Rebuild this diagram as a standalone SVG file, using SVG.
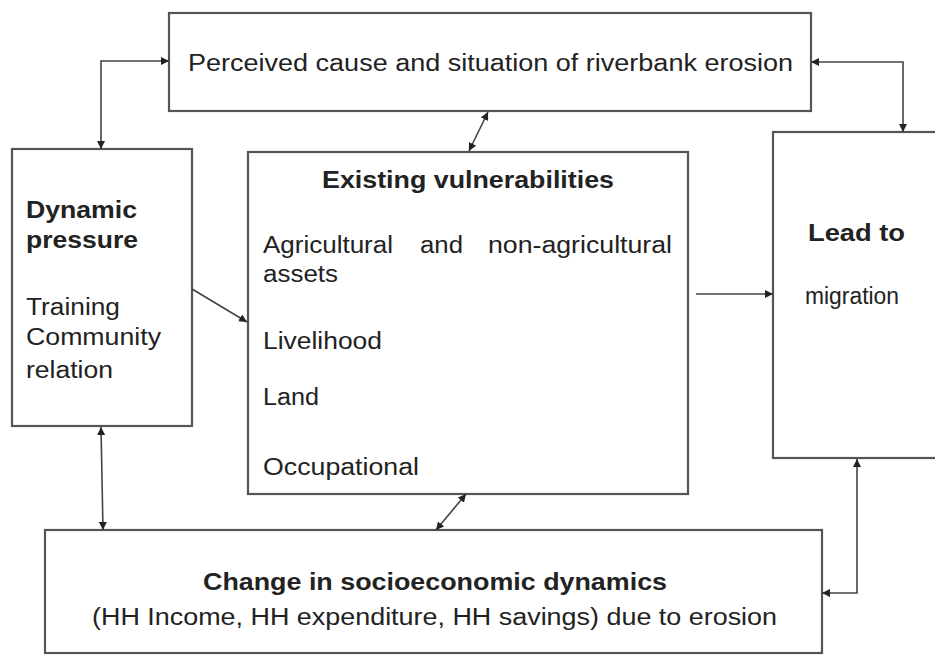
<svg xmlns="http://www.w3.org/2000/svg" width="935" height="655" viewBox="0 0 935 655">
<style>
.box{fill:#fff;stroke:#555;stroke-width:2.2}
.t{font-family:"Liberation Sans",Arial,sans-serif;font-size:23px;fill:#222}
.b{font-weight:bold}
.c{fill:none;stroke:#444;stroke-width:1.6}
</style>
<defs>
<marker id="ah" viewBox="0 0 10 10" refX="10" refY="5" markerWidth="8" markerHeight="8" markerUnits="userSpaceOnUse" orient="auto-start-reverse">
<path d="M0,0 L10,5 L0,10 z" fill="#222"/>
</marker>
</defs>
<rect width="935" height="655" fill="#fff"/>
<g id="n-cause">
<rect class="box" x="169" y="13" width="642" height="98"/>
<text class="t" x="188" y="71" textLength="605" lengthAdjust="spacingAndGlyphs" font-size="24">Perceived cause and situation of riverbank erosion</text>
</g>
<g id="n-pressure">
<rect class="box" x="12" y="149" width="180" height="277"/>
<text class="t b" x="26" y="218" textLength="111" lengthAdjust="spacingAndGlyphs">Dynamic</text>
<text class="t b" x="26" y="248" textLength="112" lengthAdjust="spacingAndGlyphs">pressure</text>
<text class="t" x="26" y="315" textLength="94" lengthAdjust="spacingAndGlyphs">Training</text>
<text class="t" x="26" y="345" textLength="135" lengthAdjust="spacingAndGlyphs">Community</text>
<text class="t" x="26" y="378" textLength="87" lengthAdjust="spacingAndGlyphs">relation</text>
</g>
<g id="n-vuln">
<rect class="box" x="248" y="152" width="440" height="342"/>
<text class="t b" x="322" y="188" textLength="292" lengthAdjust="spacingAndGlyphs">Existing vulnerabilities</text>
<text class="t" x="263" y="253" textLength="130" lengthAdjust="spacingAndGlyphs">Agricultural</text>
<text class="t" x="420" y="253" textLength="43" lengthAdjust="spacingAndGlyphs">and</text>
<text class="t" x="488" y="253" textLength="184" lengthAdjust="spacingAndGlyphs">non-agricultural</text>
<text class="t" x="263" y="282" textLength="75" lengthAdjust="spacingAndGlyphs">assets</text>
<text class="t" x="263" y="349" textLength="119" lengthAdjust="spacingAndGlyphs">Livelihood</text>
<text class="t" x="263" y="405" textLength="56" lengthAdjust="spacingAndGlyphs">Land</text>
<text class="t" x="263" y="475" textLength="156" lengthAdjust="spacingAndGlyphs">Occupational</text>
</g>
<g id="n-lead">
<rect class="box" x="773" y="132" width="170" height="326"/>
<text class="t b" x="808" y="241" textLength="97" lengthAdjust="spacingAndGlyphs">Lead to</text>
<text class="t" x="805" y="304" textLength="94" lengthAdjust="spacingAndGlyphs">migration</text>
</g>
<g id="n-change">
<rect class="box" x="45" y="530" width="777" height="123"/>
<text class="t b" x="203" y="590" textLength="464" lengthAdjust="spacingAndGlyphs">Change in socioeconomic dynamics</text>
<text class="t" x="92" y="625" textLength="685" lengthAdjust="spacingAndGlyphs">(HH Income, HH expenditure, HH savings) due to erosion</text>
</g>
<g id="connectors">
<path class="c" d="M169,61 H101 V149" marker-start="url(#ah)" marker-end="url(#ah)"/>
<path class="c" d="M811,62 H903 V132" marker-start="url(#ah)" marker-end="url(#ah)"/>
<path class="c" d="M488,112 L469,151" marker-start="url(#ah)" marker-end="url(#ah)"/>
<path class="c" d="M192,289 L247,322" marker-end="url(#ah)"/>
<path class="c" d="M696,294 H773" marker-end="url(#ah)"/>
<path class="c" d="M101,427 L103,530" marker-start="url(#ah)" marker-end="url(#ah)"/>
<path class="c" d="M466,494 L436,530" marker-start="url(#ah)" marker-end="url(#ah)"/>
<path class="c" d="M857,459 V593 H822" marker-start="url(#ah)" marker-end="url(#ah)"/>
</g>
</svg>
